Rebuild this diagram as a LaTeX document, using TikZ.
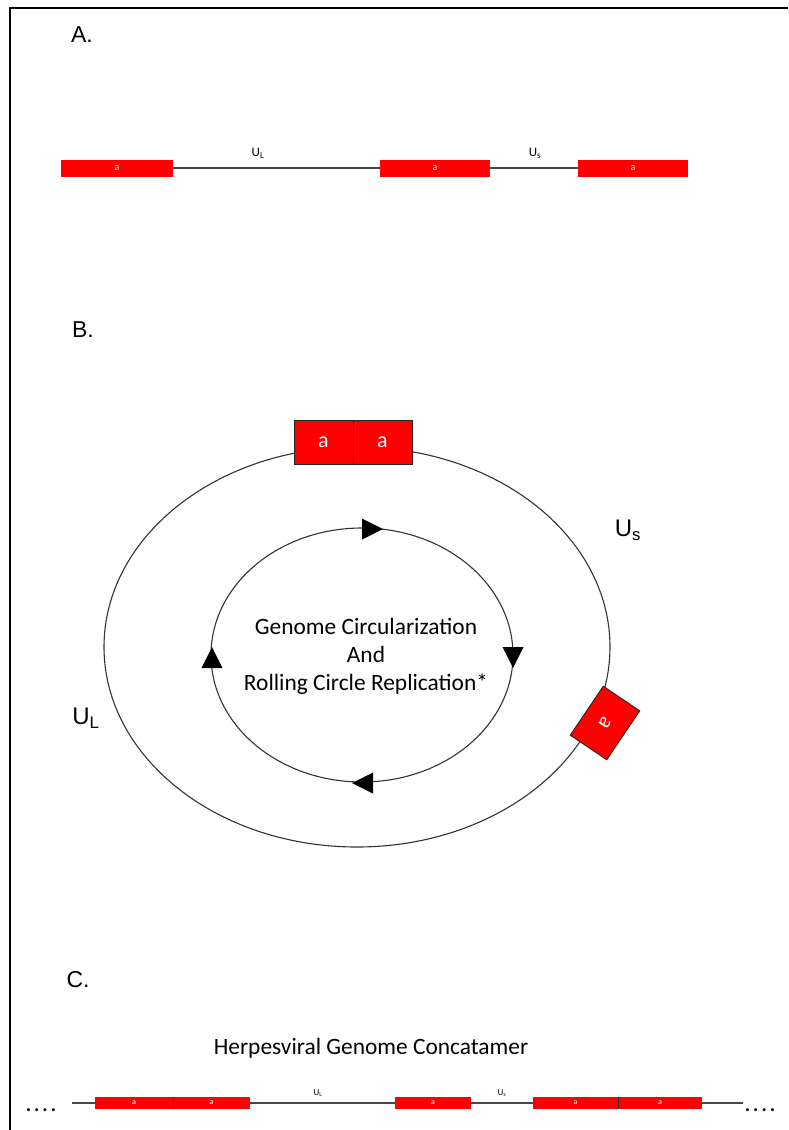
\documentclass[tikz,border=0pt]{standalone}
\usepackage{fontspec}
\setmainfont{Carlito}
\newfontfamily\arialf{Liberation Sans}
\definecolor{boxred}{RGB}{255,0,0}
\definecolor{dnagray}{RGB}{70,70,70}
\begin{document}
\begin{tikzpicture}[x=1pt,y=-1pt,
  sbar/.style={fill=boxred, draw=none, inner sep=0pt, text=white, font=\fontsize{10}{11}\selectfont, minimum height=17pt},
  cbar/.style={fill=boxred, draw=none, inner sep=0pt, text=white, font=\fontsize{8}{9}\selectfont, minimum height=12pt},
  bigbox/.style={fill=boxred, draw=black!85, line width=0.9pt, minimum width=59pt, minimum height=44pt, inner sep=0pt, text=white, font=\fontsize{22}{26}\selectfont},
  dna/.style={draw=dnagray, line width=2pt},
  cdna/.style={draw=dnagray, line width=1.6pt},
  divider/.style={draw=black!80, line width=0.9pt},
  ring/.style={draw=black!80, line width=1.1pt},
  panel/.style={font=\arialf\fontsize{23}{26}\selectfont},
  seglbl/.style={font=\fontsize{13}{14}\selectfont},
  cseglbl/.style={font=\fontsize{9}{10}\selectfont},
  biglbl/.style={font=\arialf\fontsize{24}{28}\selectfont},
  maintext/.style={font=\fontsize{23.4}{28}\selectfont, align=center},
  dots/.style={font=\bfseries\fontsize{20}{22}\selectfont},
  tip/.style={fill=black}]
\useasboundingbox (0,0) rectangle (788,1130);
% frame
\draw[line width=2.5pt] (10,1130) -- (10,8) -- (788,8);

% ---------- A ----------
\node[panel] (labA) at (82,35) {A.};
\node[sbar, minimum width=112pt] (a1) at (117,168) {a};
\node[sbar, minimum width=110pt] (a2) at (435,168) {a};
\node[sbar, minimum width=110pt] (a3) at (633,168) {a};
\draw[dna] (a1.east) -- (a2.west);
\draw[dna] (a2.east) -- (a3.west);
\node[seglbl] (ulA) at (258,153) {U\textsubscript{L}};
\node[seglbl] (usA) at (535,153) {U\textsubscript{s}};

% ---------- B ----------
\node[panel] (labB) at (83,330) {B.};
\draw[ring] (357,647) ellipse [x radius=253, y radius=200];
\node[bigbox] (b1) at (323.5,442) {a};
\node[bigbox] (b2) at (382.5,442) {a};
\node[bigbox, rotate=236] (b3) at (605,723) {a};
\node[biglbl] (usB) at (628,530) {U\textsubscript{s}};
\node[biglbl] (ulB) at (86,718) {U\textsubscript{L}};

\draw[ring] (362,655) ellipse [x radius=151, y radius=127];
\fill[tip, shift={(372,529)}, rotate=0] (11,0) -- (-10,-10.5) -- (-10,10.5) -- cycle;
\fill[tip, shift={(513,657)}, rotate=-90] (11,0) -- (-10,-10.5) -- (-10,10.5) -- cycle;
\fill[tip, shift={(363,783)}, rotate=180] (11,0) -- (-10,-10.5) -- (-10,10.5) -- cycle;
\fill[tip, shift={(212,658)}, rotate=90] (11,0) -- (-10,-10.5) -- (-10,10.5) -- cycle;
\node[maintext] (gtxt) at (366,656) {Genome Circularization\\And\\Rolling Circle Replication*};

% ---------- C ----------
\node[panel] (labC) at (78,980) {C.};
\node[font=\fontsize{23.4}{26}\selectfont] (ctitle) at (371,1048) {Herpesviral Genome Concatamer};
\coordinate (cL) at (72,1103);
\coordinate (cR) at (743,1103);
\node[cbar, minimum width=78pt] (c1) at (134,1103) {a};
\node[cbar, minimum width=77pt] (c2) at (211.5,1103) {a};
\node[cbar, minimum width=76pt] (c3) at (433,1103) {a};
\node[cbar, minimum width=85pt] (c4) at (575.5,1103) {a};
\node[cbar, minimum width=84pt] (c5) at (660,1103) {a};
\draw[cdna] (cL) -- (c1.west);
\draw[cdna] (c2.east) -- (c3.west);
\draw[cdna] (c3.east) -- (c4.west);
\draw[cdna] (c5.east) -- (cR);
\draw[divider] (c1.north east) -- (c1.south east);
\draw[divider] (c4.north east) -- (c4.south east);
\node[cseglbl] (ulC) at (318,1093) {U\textsubscript{L}};
\node[cseglbl] (usC) at (502,1093) {U\textsubscript{s}};
\node[dots] (dotsL) at (41,1110) {.\kern3pt.\kern3pt.\kern3pt.};
\node[dots] (dotsR) at (760,1110) {.\kern3pt.\kern3pt.\kern3pt.};
\end{tikzpicture}
\end{document}
